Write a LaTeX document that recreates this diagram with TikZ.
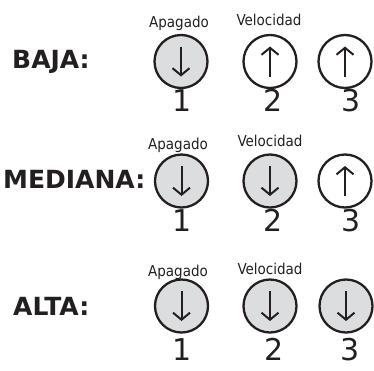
\documentclass[tikz,border=0pt]{standalone}
\usepackage{fontspec}
\setmainfont{DejaVu Sans}
\newfontfamily\condfont{DejaVu Sans Condensed}
\usetikzlibrary{arrows.meta}
\definecolor{ink}{RGB}{35,31,32}
\definecolor{btnfill}{RGB}{220,221,223}
\tikzset{
  switch/.style={circle, draw=ink, line width=2.3pt, minimum size=53pt, inner sep=0pt},
  switchon/.style={switch, fill=btnfill},
  lever/.style={draw=ink, line width=2pt, -{Straight Barb[length=7pt,width=17pt]}},
  speed/.style={anchor=base, inner sep=0pt, text=ink, font=\fontsize{30}{30}\selectfont},
  caption/.style={anchor=base, inner sep=0pt, text=ink, font=\condfont\fontsize{15}{15}\selectfont},
  level/.style={anchor=west, inner sep=0pt, text=ink, font=\bfseries\fontsize{25}{25}\selectfont}
}
\begin{document}
\begin{tikzpicture}[x=1pt, y=-1pt]
        \useasboundingbox (0,0) rectangle (374,370);
        % BAJA
        \node[level] (baja) at (12,61.5) {BAJA:};
        \node[switchon] (b1) at (181,61.5) {};
        \node[switch] (b2) at (270,61.5) {};
        \node[switch] (b3) at (345,61.5) {};
        \draw[lever] ([yshift=15pt]b1.center) -- ([yshift=-15pt]b1.center);
        \draw[lever] ([yshift=-15pt]b2.center) -- ([yshift=15pt]b2.center);
        \draw[lever] ([yshift=-15pt]b3.center) -- ([yshift=15pt]b3.center);
        \node[caption] (bapagado) at (179,27.5) {Apagado};
        \node[caption] (bvelocidad) at (269,25) {Velocidad};
        \node[speed] (bn1) at (182,111) {1};
        \node[speed] (bn2) at (273,111) {2};
        \node[speed] (bn3) at (351,111) {3};
        % MEDIANA
        \node[level] (mediana) at (3,179.5) {MEDIANA:};
        \node[switchon] (m1) at (181.5,181) {};
        \node[switchon] (m2) at (270,181) {};
        \node[switch] (m3) at (345,181) {};
        \draw[lever] ([yshift=15pt]m1.center) -- ([yshift=-15pt]m1.center);
        \draw[lever] ([yshift=15pt]m2.center) -- ([yshift=-15pt]m2.center);
        \draw[lever] ([yshift=-15pt]m3.center) -- ([yshift=15pt]m3.center);
        \node[caption] (mapagado) at (178,149.5) {Apagado};
        \node[caption] (mvelocidad) at (270,146.5) {Velocidad};
        \node[speed] (mn1) at (182,231) {1};
        \node[speed] (mn2) at (273,231) {2};
        \node[speed] (mn3) at (351,231) {3};
        % ALTA
        \node[level] (alta) at (13,306) {ALTA:};
        \node[switchon] (a1) at (181.5,306) {};
        \node[switchon] (a2) at (270,306) {};
        \node[switchon] (a3) at (346,306) {};
        \draw[lever] ([yshift=15pt]a1.center) -- ([yshift=-15pt]a1.center);
        \draw[lever] ([yshift=15pt]a2.center) -- ([yshift=-15pt]a2.center);
        \draw[lever] ([yshift=15pt]a3.center) -- ([yshift=-15pt]a3.center);
        \node[caption] (aapagado) at (178,276.5) {Apagado};
        \node[caption] (avelocidad) at (270,274.5) {Velocidad};
        \node[speed] (an1) at (182,360) {1};
        \node[speed] (an2) at (274,360) {2};
        \node[speed] (an3) at (350,360) {3};
\end{tikzpicture}
\end{document}
